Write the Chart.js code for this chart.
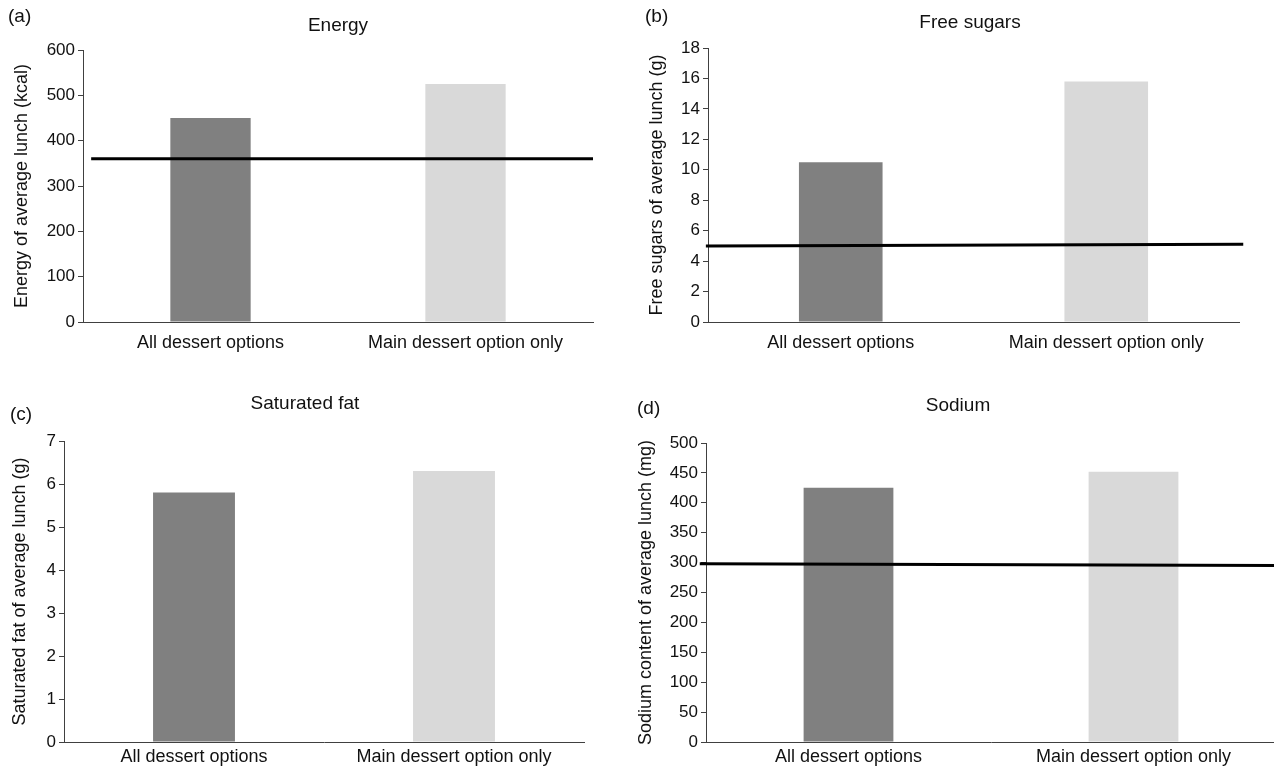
<!DOCTYPE html>
<html>
<head>
<meta charset="utf-8">
<script src="https://cdn.jsdelivr.net/npm/chart.js@4.4.1/dist/chart.umd.min.js"></script>
<style>
  html, body { margin: 0; padding: 0; background: #fff; }
  #wrap { position: relative; width: 1274px; height: 767px; overflow: hidden; background: #fff;
          font-family: "Liberation Sans", Arial, sans-serif; color: #111; }
  canvas { position: absolute; }
  .txt { position: absolute; white-space: nowrap; line-height: 1; }
  .ttl { transform: translateX(-50%); font-size: 19px; }
  .tag { font-size: 19px; }
</style>
</head>
<body>
<div id="wrap">
  <canvas id="cA" width="637" height="380" style="left:0;top:0"></canvas>
  <canvas id="cB" width="637" height="380" style="left:637px;top:0"></canvas>
  <canvas id="cC" width="637" height="387" style="left:0;top:380px"></canvas>
  <canvas id="cD" width="665" height="387" style="left:625px;top:380px"></canvas>

  <div class="txt tag" style="left:8px;top:6px">(a)</div>
  <div class="txt tag" style="left:645px;top:6px">(b)</div>
  <div class="txt tag" style="left:10px;top:404px">(c)</div>
  <div class="txt tag" style="left:637px;top:398px">(d)</div>

  <div class="txt ttl" style="left:338px;top:15px">Energy</div>
  <div class="txt ttl" style="left:970px;top:12px">Free sugars</div>
  <div class="txt ttl" style="left:305px;top:393px">Saturated fat</div>
  <div class="txt ttl" style="left:958px;top:395px">Sodium</div>
</div>
<script>
// data
const categories = ['All dessert options', 'Main dessert option only'];

const energyValues = [450, 525];
const energyTicks = { max: 600, step: 100 };
const energyRefX = [0.016, 1.0];
const energyRefY = [360, 360];

const sugarValues = [10.5, 15.8];
const sugarTicks = { max: 18, step: 2 };
const sugarRefX = [-0.004, 1.008];
const sugarRefY = [5.0, 5.1];

const satFatValues = [5.8, 6.3];
const satFatTicks = { max: 7, step: 1 };

const sodiumValues = [425, 452];
const sodiumTicks = { max: 500, step: 50 };
const sodiumRefX = [-0.011, 1.0];
const sodiumRefY = [298, 295];

const barColors = ['#808080', '#d9d9d9'];
const axisColor = '#404040';
const fontFam = '"Liberation Sans", Arial, sans-serif';

function makePanel(id, values, ticks, yTitle, refX, refY, box) {
  const datasets = [{
    type: 'bar',
    data: values,
    backgroundColor: barColors,
    barPercentage: 0.315,
    categoryPercentage: 1,
    grouped: false,
    order: 1
  }];
  if (refX) {
    datasets.push({
      type: 'line',
      xAxisID: 'x2',
      data: refX.map((x, i) => ({ x: x, y: refY[i] })),
      borderColor: '#000',
      borderWidth: 3,
      pointRadius: 0,
      clip: false,
      order: 0
    });
  }
  new Chart(document.getElementById(id), {
    type: 'bar',
    data: { labels: categories, datasets: datasets },
    options: {
      responsive: false,
      animation: false,
      layout: { padding: { left: 0, top: box.top, right: box.right, bottom: 0 } },
      plugins: { legend: { display: false }, tooltip: { enabled: false } },
      scales: {
        x: {
          grid: { display: false, drawTicks: false },
          border: { display: true, color: axisColor, width: 1 },
          ticks: { color: '#111', padding: box.xPad, font: { family: fontFam, size: 18 } },
          afterFit: s => { s.height = box.xHeight; }
        },
        x2: { type: 'linear', display: false, offset: false, min: 0, max: 1 },
        y: {
          min: 0,
          max: ticks.max,
          grid: { drawOnChartArea: false, drawTicks: true, tickLength: 5, color: axisColor },
          border: { display: true, color: axisColor, width: 1 },
          ticks: { stepSize: ticks.step, color: '#111', padding: 3, font: { family: fontFam, size: 17 } },
          title: {
            display: true,
            text: yTitle,
            color: '#111',
            font: { family: fontFam, size: 18 },
            padding: { top: box.titlePad, bottom: 0 }
          },
          afterFit: s => { s.width = box.yWidth; }
        }
      }
    }
  });
}

makePanel('cA', energyValues, energyTicks, 'Energy of average lunch (kcal)', energyRefX, energyRefY,
  { top: 50, right: 44, yWidth: 83, xHeight: 58, xPad: 10, titlePad: 11 });
makePanel('cB', sugarValues, sugarTicks, 'Free sugars of average lunch (g)', sugarRefX, sugarRefY,
  { top: 48, right: 35, yWidth: 71, xHeight: 58, xPad: 10, titlePad: 9 });
makePanel('cC', satFatValues, satFatTicks, 'Saturated fat of average lunch (g)', null, null,
  { top: 61, right: 53, yWidth: 64, xHeight: 25, xPad: 4, titlePad: 9 });
makePanel('cD', sodiumValues, sodiumTicks, 'Sodium content of average lunch (mg)', sodiumRefX, sodiumRefY,
  { top: 63, right: 14, yWidth: 81, xHeight: 25, xPad: 4, titlePad: 10 });
</script>
</body>
</html>
